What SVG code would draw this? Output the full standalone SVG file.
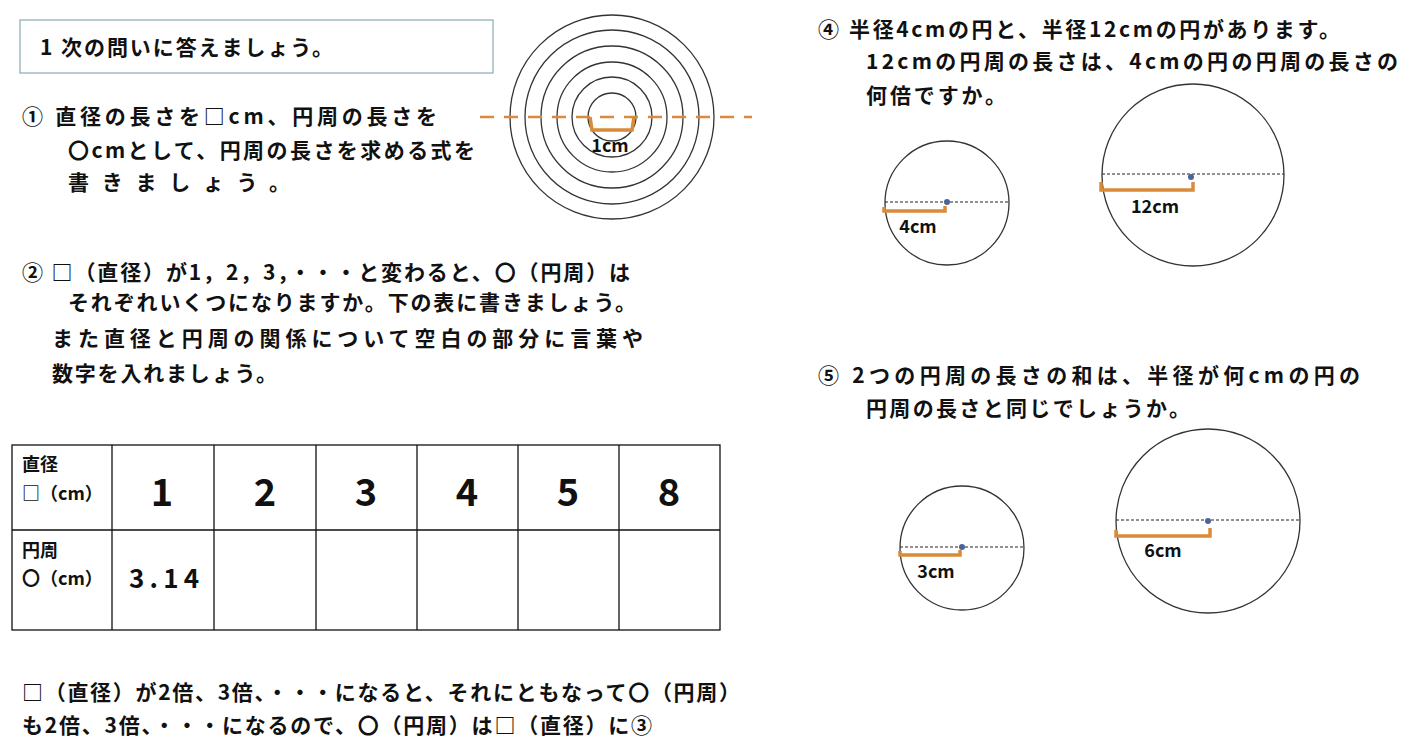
<svg xmlns="http://www.w3.org/2000/svg" width="1423" height="745" viewBox="0 0 1423 745">
<style>
text{font-family:"Noto Sans CJK JP","Noto Sans",sans-serif;font-weight:bold;fill:#111;font-size:21px}
.c{fill:none;stroke:#333;stroke-width:1.3}
.br{fill:none;stroke:#d98b3a;stroke-width:3.5}
.dl{stroke:#222;stroke-width:1;stroke-dasharray:3 2}
.dot{fill:#4a6399}
.n{font-size:38px;text-anchor:middle}
.s{font-size:18px}
.t{fill:none;stroke:#111;stroke-width:1.3}
</style>
<rect width="1423" height="745" fill="#fff"/>
<rect x="20" y="20" width="473" height="53" fill="none" stroke="#8aaab5" stroke-width="1.2"/>
<text x="40" y="55" textLength="293" lengthAdjust="spacing">1  次の問いに答えましょう。</text>
<text x="22" y="124" textLength="415" lengthAdjust="spacing">①  直径の長さを□cm、円周の長さを</text>
<text x="68" y="158" textLength="407" lengthAdjust="spacing">〇cmとして、円周の長さを求める式を</text>
<text x="68" y="190" textLength="222" lengthAdjust="spacing">書きましょう。</text>
<g id="concentric">
<circle class="c" cx="612" cy="117" r="102"/><circle class="c" cx="612" cy="117" r="87"/><circle class="c" cx="612" cy="117" r="71"/><circle class="c" cx="612" cy="117" r="55"/><circle class="c" cx="612" cy="117" r="40"/><circle class="c" cx="612" cy="117" r="24"/>
<line x1="480" y1="117" x2="752" y2="117" stroke="#d98b3a" stroke-width="2.5" stroke-dasharray="14 10"/>
<path class="br" d="M590 117 L592 130 L632 130 L634 117" stroke-width="2.5"/>
<text x="610" y="152" class="s" text-anchor="middle">1cm</text>
</g>
<text x="22" y="280" textLength="608" lengthAdjust="spacing">②  □（直径）が1，2，3，・・・と変わると、〇（円周）は</text>
<text x="68" y="310" textLength="568" lengthAdjust="spacing">それぞれいくつになりますか。下の表に書きましょう。</text>
<text x="52" y="346" textLength="591" lengthAdjust="spacing">また直径と円周の関係について空白の部分に言葉や</text>
<text x="52" y="381" textLength="225" lengthAdjust="spacing">数字を入れましょう。</text>
<g id="table">
<rect class="t" x="12" y="445" width="708" height="185"/>
<line class="t" x1="12" y1="530" x2="720" y2="530"/>
<line class="t" x1="112" y1="445" x2="112" y2="630"/><line class="t" x1="214" y1="445" x2="214" y2="630"/><line class="t" x1="316" y1="445" x2="316" y2="630"/><line class="t" x1="417" y1="445" x2="417" y2="630"/><line class="t" x1="518" y1="445" x2="518" y2="630"/><line class="t" x1="619" y1="445" x2="619" y2="630"/>
<text x="22" y="471" class="s">直径</text><text x="22" y="500" class="s">□（cm）</text>
<text class="n" x="162" y="506">1</text><text class="n" x="265" y="506">2</text><text class="n" x="366" y="506">3</text><text class="n" x="467" y="506">4</text><text class="n" x="568" y="506">5</text><text class="n" x="669" y="506">8</text>
<text x="22" y="557" class="s">円周</text><text x="22" y="585" class="s">〇（cm）</text>
<text x="164" y="588" text-anchor="middle" style="font-size:26px" textLength="70" lengthAdjust="spacing">3.14</text>
</g>
<text x="22" y="700" textLength="718" lengthAdjust="spacing">□（直径）が2倍、3倍、・・・になると、それにともなって〇（円周）</text>
<text x="22" y="733" textLength="630" lengthAdjust="spacing">も2倍、3倍、・・・になるので、〇（円周）は□（直径）に③</text>
<text x="818" y="37" textLength="522" lengthAdjust="spacing">④  半径4cmの円と、半径12cmの円があります。</text>
<text x="866" y="69" textLength="532" lengthAdjust="spacing">12cmの円周の長さは、4cmの円の円周の長さの</text>
<text x="866" y="103" textLength="140" lengthAdjust="spacing">何倍ですか。</text>
<g id="c4">
<circle class="c" cx="947" cy="203" r="62"/><line class="dl" x1="885" y1="202" x2="1009" y2="202"/><circle class="dot" cx="947" cy="202" r="3"/>
<path class="br" d="M884 207 V211 H945 V206"/><text x="918" y="233" class="s" text-anchor="middle">4cm</text>
</g>
<g id="c12">
<circle class="c" cx="1193" cy="175" r="91"/><line class="dl" x1="1102" y1="174" x2="1284" y2="174"/><circle class="dot" cx="1191" cy="177" r="3"/>
<path class="br" d="M1101 182 V190 H1193 V182"/><text x="1155" y="213" class="s" text-anchor="middle">12cm</text>
</g>
<text x="818" y="383" textLength="542" lengthAdjust="spacing">⑤  2つの円周の長さの和は、半径が何cmの円の</text>
<text x="866" y="416" textLength="324" lengthAdjust="spacing">円周の長さと同じでしょうか。</text>
<g id="c3">
<circle class="c" cx="962" cy="548" r="62"/><line class="dl" x1="900" y1="547" x2="1024" y2="547"/><circle class="dot" cx="962" cy="547" r="3"/>
<path class="br" d="M900 551 V555 H960 V550"/><text x="936" y="578" class="s" text-anchor="middle">3cm</text>
</g>
<g id="c6">
<circle class="c" cx="1208" cy="521" r="92"/><line class="dl" x1="1116" y1="520" x2="1300" y2="520"/><circle class="dot" cx="1208" cy="521" r="3"/>
<path class="br" d="M1116 530 V536 H1210 V528"/><text x="1163" y="557" class="s" text-anchor="middle">6cm</text>
</g>
</svg>
